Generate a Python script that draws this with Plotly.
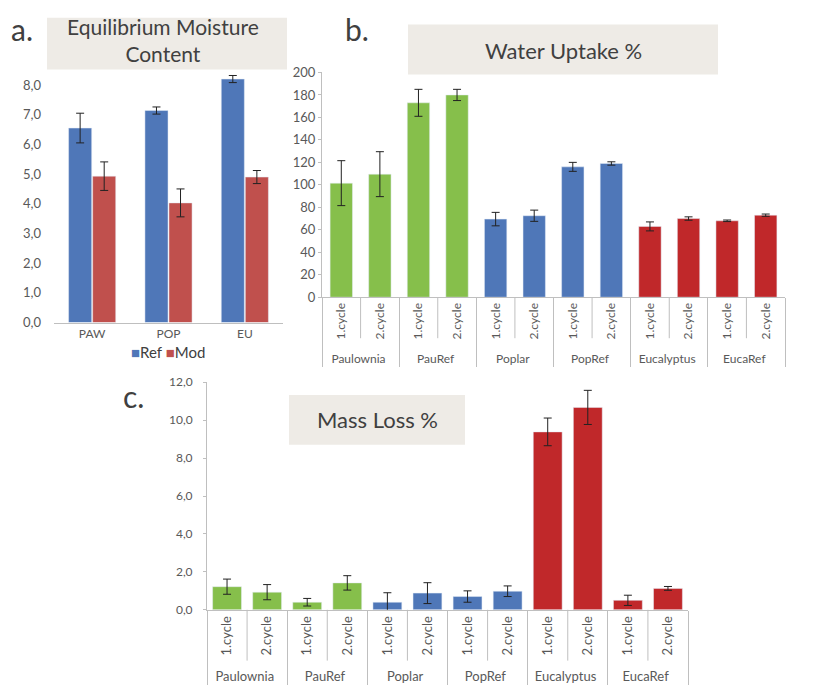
import plotly.graph_objects as go

# ---------------- data ----------------
emc_cats = ["PAW", "POP", "EU"]
emc_ref = [6.55, 7.14, 8.2]
emc_ref_err = [0.5, 0.12, 0.12]
emc_mod = [4.93, 4.03, 4.9]
emc_mod_err = [0.48, 0.47, 0.22]

groups = ["Paulownia", "PauRef", "Poplar", "PopRef", "Eucalyptus", "EucaRef"]
cycles = ["1.cycle", "2.cycle"]
water_uptake = [101.5, 109.5, 173, 180, 69.5, 72.5, 116, 119, 63, 70, 68, 73]
water_uptake_err = [20, 20, 12, 5, 6, 5, 4, 1.5, 4, 1.5, 0.7, 1]
mass_loss = [1.22, 0.93, 0.4, 1.42, 0.4, 0.88, 0.7, 0.98, 9.38, 10.67, 0.5, 1.13]
mass_loss_err = [0.4, 0.4, 0.2, 0.38, 0.5, 0.55, 0.3, 0.28, 0.73, 0.9, 0.27, 0.1]

GREEN = "#86bf4b"
BLUE = "#4f77b8"
RED = "#c0282a"
REF_C = "#4f77b8"
MOD_C = "#c0504d"
group_colors = [GREEN, GREEN, BLUE, BLUE, RED, RED]

W, H = 828, 695
FONT = "Lato"
TICKC = "#595959"
AXC = "#bfbfbf"

lvl0 = [g for g in groups for _ in cycles]
lvl1 = [c for _ in groups for c in cycles]
bar_colors = [group_colors[i // 2] for i in range(len(lvl0))]

def px(x):
    return x / W

def py(y):
    return 1 - y / H

fig = go.Figure()

ERR = dict(color="#222", thickness=1, width=4)

# panel a
fig.add_trace(go.Bar(x=emc_cats, y=emc_ref, name="Ref", marker_color=REF_C,
                     error_y=dict(type="data", array=emc_ref_err, **ERR),
                     xaxis="x", yaxis="y"))
fig.add_trace(go.Bar(x=emc_cats, y=emc_mod, name="Mod", marker_color=MOD_C,
                     error_y=dict(type="data", array=emc_mod_err, **ERR),
                     xaxis="x", yaxis="y"))

# panel b
fig.add_trace(go.Bar(x=[lvl0, lvl1], y=water_uptake, marker_color=bar_colors, showlegend=False,
                     width=0.58, error_y=dict(type="data", array=water_uptake_err, **ERR),
                     xaxis="x2", yaxis="y2"))
# panel c
fig.add_trace(go.Bar(x=[lvl0, lvl1], y=mass_loss, marker_color=bar_colors, showlegend=False,
                     width=0.72, error_y=dict(type="data", array=mass_loss_err, **ERR),
                     xaxis="x3", yaxis="y3"))

fig.update_layout(
    width=W, height=H, margin=dict(l=0, r=0, t=0, b=0),
    paper_bgcolor="white", plot_bgcolor="white",
    separators=",.",
    font=dict(family=FONT, color=TICKC),
    barmode="group", bargap=0.37, bargroupgap=0.04,
    showlegend=False,
    xaxis=dict(domain=[px(54), px(283)], anchor="y", showline=True, linecolor=AXC,
               ticks="", tickfont=dict(family=FONT, size=12, color=TICKC), showgrid=False),
    yaxis=dict(domain=[py(322), py(322 - 8.5 * 30.4)], anchor="x", range=[0, 8.5],
               tickvals=[0, 1, 2, 3, 4, 5, 6, 7, 8], tickformat=".1f", showgrid=False,
               showline=False, ticks="", tickfont=dict(family=FONT, size=13, color=TICKC),
               zeroline=False, ticklabelstandoff=12),
    xaxis2=dict(domain=[px(322), px(785)], anchor="y2", type="multicategory",
                showline=True, linecolor=AXC, tickangle=-90,
                tickfont=dict(family=FONT, size=12, color=TICKC),
                showdividers=True, dividercolor=AXC, dividerwidth=1, showgrid=False, ticks=""),
    yaxis2=dict(domain=[py(296), py(66)], anchor="x2", range=[0, 200], dtick=20,
                showgrid=False, showline=True, linecolor=AXC, ticks="outside", ticklen=3,
                tickcolor=AXC, tickfont=dict(family=FONT, size=13, color=TICKC), zeroline=False),
    xaxis3=dict(domain=[px(207), px(688)], anchor="y3", type="multicategory",
                showline=True, linecolor=AXC, tickangle=-90,
                tickfont=dict(family=FONT, size=13, color=TICKC),
                showdividers=True, dividercolor=AXC, dividerwidth=1, showgrid=False, ticks=""),
    yaxis3=dict(domain=[py(616), py(383)], anchor="x3", range=[0, 12], dtick=2, tickformat=".1f",
                showgrid=False, showline=True, linecolor=AXC, ticks="outside", ticklen=3,
                tickcolor=AXC, tickfont=dict(family=FONT, size=12, color=TICKC), zeroline=False,
                ticklabelstandoff=8),
)

# title boxes
BOX = "#eeebe6"
shapes = [
    dict(type="rect", xref="paper", yref="paper", x0=px(47), x1=px(287), y0=py(63), y1=py(10),
         fillcolor=BOX, line=dict(width=0), layer="below"),
    dict(type="rect", xref="paper", yref="paper", x0=px(408), x1=px(718), y0=py(68), y1=py(17),
         fillcolor=BOX, line=dict(width=0), layer="below"),
    dict(type="rect", xref="paper", yref="paper", x0=px(289), x1=px(465), y0=py(447), y1=py(396),
         fillcolor=BOX, line=dict(width=0), layer="below"),
]
# short separators between cycles inside each group
for k in range(len(groups)):
    xs = 2 * k + 0.5
    shapes.append(dict(type="line", xref="x2", yref="paper", x0=xs, x1=xs, y0=py(296), y1=py(338),
                       line=dict(color=AXC, width=1)))
    shapes.append(dict(type="line", xref="x3", yref="paper", x0=xs, x1=xs, y0=py(616), y1=py(668),
                       line=dict(color=AXC, width=1)))
fig.update_layout(shapes=shapes)

TITLEC = "#404040"
def label(text, x, y, size, color=TITLEC):
    return dict(text=text, x=px(x), y=py(y), xref="paper", yref="paper", xanchor="center",
                yanchor="middle", showarrow=False, align="center",
                font=dict(family=FONT, size=size, color=color))

legend_text = (f"<span style='color:{REF_C}'>■</span>Ref "
               f"<span style='color:{MOD_C}'>■</span>Mod")

ann = [
    label("Equilibrium Moisture<br>Content", 163, 33, 21),
    label("Water Uptake %", 563, 43, 22),
    label("Mass Loss %", 377, 421, 22),
    label("a.", 22, 22, 30),
    label("b.", 357, 22, 30),
    label("c.", 133, 397, 30),
    label(legend_text, 168, 352, 15, "#404040"),
]
fig.update_layout(annotations=ann)

fig.write_html("out.html", post_script="document.body.style.margin='0';",
               config={"displayModeBar": False})
